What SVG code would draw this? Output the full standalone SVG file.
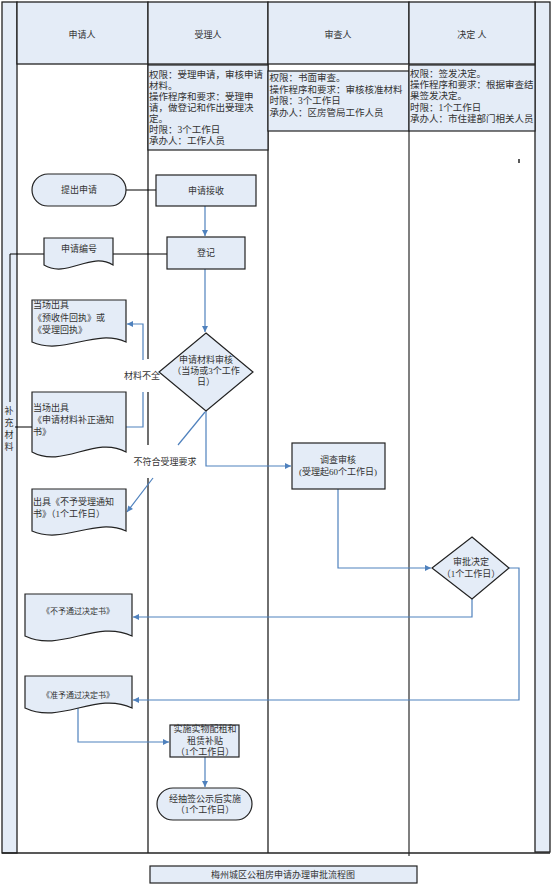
<svg xmlns="http://www.w3.org/2000/svg" width="553" height="886" viewBox="0 0 553 886">
<defs>
<style>
.bg{fill:#E4ECF7;stroke:#222;stroke-width:1.3}
.box{fill:#E4ECF7;stroke:#222;stroke-width:1.2}
.ln{fill:none;stroke:#222;stroke-width:1.3}
.t{font-family:"Liberation Serif","Noto Sans CJK SC","Noto Sans CJK JP",serif;font-size:9.5px;fill:#333;dominant-baseline:central}
.s9{font-size:9px}
.s8{font-size:8px}
.c{text-anchor:middle}
.blue{fill:none;stroke:#4F81BD;stroke-width:1.2}
.blk{fill:none;stroke:#000;stroke-width:1}
</style>
<marker id="ar" viewBox="0 0 10 10" refX="10" refY="5" markerWidth="7" markerHeight="6" markerUnits="userSpaceOnUse" orient="auto">
<path d="M0,0 L10,5 L0,10 z" fill="#4F81BD"/>
</marker>
</defs>

<g id="frame">
<rect class="bg" x="2" y="2" width="15" height="851"/>
<rect class="bg" x="535" y="2" width="15" height="850"/>
<rect class="bg" x="17" y="2" width="131" height="62"/>
<rect class="bg" x="148" y="2" width="120" height="62"/>
<rect class="bg" x="268" y="2" width="141" height="62"/>
<rect class="bg" x="409" y="2" width="126" height="62"/>
<text class="t s9 c" x="82" y="35">申请人</text>
<text class="t s9 c" x="208" y="35">受理人</text>
<text class="t s9 c" x="338" y="35">审查人</text>
<text class="t s9 c" x="472" y="35">决定 人</text>
<path class="ln" d="M148,64 V359 M148,392 V445 M148,478 V853"/>
<path class="ln" d="M268,64 V853"/>
<path class="ln" d="M409,64 V856" style="stroke:#555;stroke-width:1.5"/>
<path class="ln" d="M2,853 H550"/>
<path class="ln" d="M519,159 V163" style="stroke-width:1.5"/>
</g>

<g id="info-accept">
<rect class="box" x="148" y="65" width="120" height="85"/>
<text class="t" x="149" y="75">权限：受理申请，审核申请</text>
<text class="t" x="149" y="86">材料。</text>
<text class="t" x="149" y="97">操作程序和要求：受理申</text>
<text class="t" x="149" y="108">请，做登记和作出受理决</text>
<text class="t" x="149" y="119">定。</text>
<text class="t" x="149" y="130">时限：3个工作日</text>
<text class="t" x="149" y="141">承办人：工作人员</text>
</g>

<g id="info-review">
<rect class="box" x="268" y="71" width="141" height="60"/>
<text class="t" x="269.5" y="78">权限：书面审查。</text>
<text class="t" x="269.5" y="89.5">操作程序和要求：审核核准材料</text>
<text class="t" x="269.5" y="101">时限：3个工作日</text>
<text class="t" x="269.5" y="112.5">承办人：区房管局工作人员</text>
</g>

<g id="info-decide">
<rect class="box" x="409" y="65" width="126" height="66"/>
<text class="t" x="410" y="74">权限：签发决定。</text>
<text class="t" x="410" y="85">操作程序和要求：根据审查结</text>
<text class="t" x="410" y="96">果签发决定。</text>
<text class="t" x="410" y="107.5">时限：1个工作日</text>
<text class="t" x="410" y="119">承办人：市住建部门相关人员</text>
</g>

<g id="connectors">
<path class="blk" d="M126,190 H156"/>
<path class="blk" d="M113,254 H167"/>
<path class="blk" d="M44,254 H10 V402"/>
<path class="blk" d="M15,427 H32"/>
<path class="blue" d="M205,206 V236" marker-end="url(#ar)"/>
<path class="blue" d="M205,269 V332" marker-end="url(#ar)"/>
<path class="blue" d="M143,360 V324 H127" marker-end="url(#ar)"/>
<path class="blue" d="M143,392 V427 H126"/>
<path class="blue" d="M206,411 V466 H291" marker-end="url(#ar)"/>
<path class="blue" d="M205,412 L178,445"/>
<path class="blue" d="M153,478 L127,512" marker-end="url(#ar)"/>
<path class="blue" d="M338,489 V568 H431" marker-end="url(#ar)"/>
<path class="blue" d="M472,599 V617 H133" marker-end="url(#ar)"/>
<path class="blue" d="M509,568 H519 V700 H133" marker-end="url(#ar)"/>
<path class="blue" d="M78,708 V742 H169" marker-end="url(#ar)"/>
<path class="blue" d="M205,757 V787" marker-end="url(#ar)"/>
<text class="t s9 c" x="142" y="376">材料不全</text>
<text class="t s9 c" x="165" y="462">不符合受理要求</text>
<text class="t s9 c" x="9" y="411">补</text>
<text class="t s9 c" x="9" y="423">充</text>
<text class="t s9 c" x="9" y="435">材</text>
<text class="t s9 c" x="9" y="447">料</text>
</g>

<g id="n-submit">
<rect class="box" x="32" y="174" width="94" height="32" rx="16" ry="16"/>
<text class="t s9 c" x="79" y="190">提出申请</text>
</g>

<g id="n-receive">
<rect class="box" x="156" y="175" width="100" height="31"/>
<text class="t s9 c" x="206" y="191">申请接收</text>
</g>

<g id="n-number">
<path class="box" d="M44,238 H113 V265 C90,251 67,279 44,265 Z"/>
<text class="t s9 c" x="79" y="249">申请编号</text>
</g>

<g id="n-register">
<rect class="box" x="167" y="237" width="78" height="32"/>
<text class="t s9 c" x="206" y="253">登记</text>
</g>

<g id="n-receipt">
<path class="box" d="M32,300 H126 V342 C95,328 63,356 32,342 Z"/>
<text class="t s9" x="33" y="305">当场出具</text>
<text class="t s9" x="33" y="318">《预收件回执》或</text>
<text class="t s9" x="33" y="330">《受理回执》</text>
</g>

<g id="n-review">
<path class="box" d="M206,333 L253,372 L206,411 L159,372 Z"/>
<text class="t s9 c" x="206" y="360">申请材料审核</text>
<text class="t s9 c" x="206" y="371">（当场或3个工作</text>
<text class="t s9 c" x="206" y="382">日）</text>
</g>

<g id="n-supplement">
<path class="box" d="M32,392 H126 V452 C95,435 63,469 32,452 Z"/>
<text class="t s9" x="33" y="408">当场出具</text>
<text class="t s9" x="33" y="420">《申请材料补正通知</text>
<text class="t s9" x="33" y="432">书》</text>
</g>

<g id="n-reject">
<path class="box" d="M32,489 H126 V531 C95,517 63,545 32,531 Z"/>
<text class="t s9" x="33" y="502">出具《不予受理通知</text>
<text class="t s9" x="33" y="514">书》（1个工作日）</text>
</g>

<g id="n-investigate">
<rect class="box" x="292" y="443" width="93" height="46"/>
<text class="t s9 c" x="338" y="460">调查审核</text>
<text class="t s9 c" x="338" y="472">(受理起60个工作日)</text>
</g>

<g id="n-decide">
<path class="box" d="M472,537 L509,568 L472,599 L432,568 Z"/>
<text class="t s9 c" x="471" y="562">审批决定</text>
<text class="t s9 c" x="471" y="574">（1个工作日）</text>
</g>

<g id="n-notpass">
<path class="box" d="M25,594 H132 V636 C96,619 61,653 25,636 Z"/>
<text class="t s8 c" x="78" y="611">《不予通过决定书》</text>
</g>

<g id="n-pass">
<path class="box" d="M25,676 H132 V708 C96,691 61,725 25,708 Z"/>
<text class="t s8 c" x="78" y="695">《准予通过决定书》</text>
</g>

<g id="n-implement">
<rect class="box" x="170" y="725" width="69" height="32"/>
<text class="t s9 c" x="205" y="729">实施实物配租和</text>
<text class="t s9 c" x="205" y="741">租赁补贴</text>
<text class="t s9 c" x="205" y="752">（1个工作日）</text>
</g>

<g id="n-lottery">
<rect class="box" x="157" y="788" width="95" height="32" rx="16" ry="16"/>
<text class="t s9 c" x="205" y="799">经抽签公示后实施</text>
<text class="t s9 c" x="205" y="810">（1个工作日）</text>
</g>

<g id="title">
<rect class="box" x="150" y="866" width="267" height="17"/>
<text class="t s9 c" x="283" y="875">梅州城区公租房申请办理审批流程图</text>
</g>
</svg>
